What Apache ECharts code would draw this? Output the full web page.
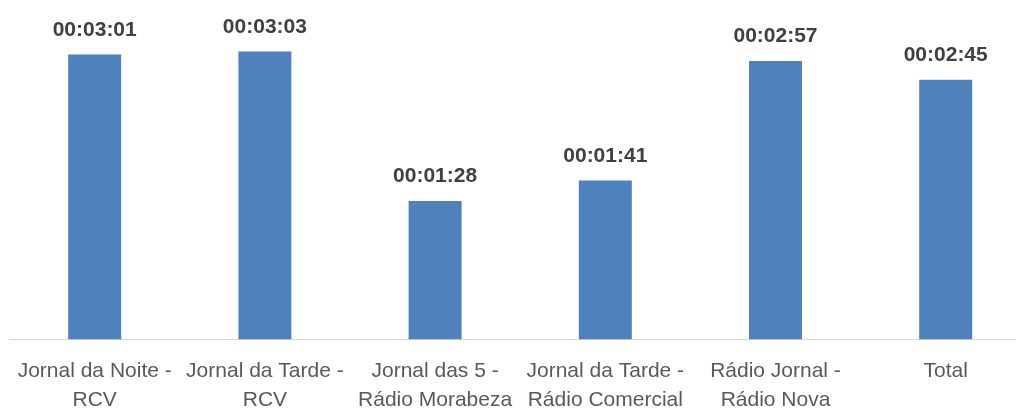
<!DOCTYPE html>
<html>
<head>
<meta charset="UTF-8">
<title>Duração média</title>
<script src="https://cdn.jsdelivr.net/npm/echarts@6/dist/echarts.min.js"></script>
<style>
  body { margin:0; background:#fff; }
  #chart { width:1016px; height:409px; }
</style>
</head>
<body>
<div id="chart"></div>
<script>
// categorias e duração média (em segundos)
var categories = ['Jornal da Noite - RCV', 'Jornal da Tarde - RCV', 'Jornal das 5 - Rádio Morabeza',
                  'Jornal da Tarde - Rádio Comercial', 'Rádio Jornal - Rádio Nova', 'Total'];
var durations = [181, 183, 88, 101, 177, 165];

function pad(n) { return (n < 10 ? '0' : '') + n; }
function fmtTime(s) {
  var h = Math.floor(s / 3600), m = Math.floor((s % 3600) / 60), sec = s % 60;
  return pad(h) + ':' + pad(m) + ':' + pad(sec);
}

var myChart = echarts.init(document.getElementById('chart'));
var option = {
  animation: false,
  grid: { left: 9.6, right: -14.8, top: 9, bottom: 69.7, containLabel: false, outerBoundsMode: 'none' },
  xAxis: {
    type: 'category',
    data: categories,
    axisLine: { show: true, lineStyle: { color: '#d9d9d9', width: 1 } },
    axisTick: { show: false },
    axisLabel: {
      interval: 0,
      margin: 17,
      color: '#595959',
      fontFamily: 'Liberation Sans',
      fontSize: 21,
      lineHeight: 29,
      formatter: function (v) { return v.replace(' - ', ' -\n'); }
    }
  },
  yAxis: {
    type: 'value',
    min: 0,
    max: 210,
    show: false,
    splitLine: { show: false }
  },
  series: [{
    type: 'bar',
    data: durations,
    barWidth: 53,
    itemStyle: { color: '#4f81bd' },
    label: {
      show: true,
      position: 'top',
      distance: 14,
      color: '#404040',
      fontFamily: 'Liberation Sans',
      fontWeight: 'bold',
      fontSize: 21,
      formatter: function (p) { return fmtTime(p.value); }
    }
  }]
};
myChart.setOption(option);
</script>
</body>
</html>
